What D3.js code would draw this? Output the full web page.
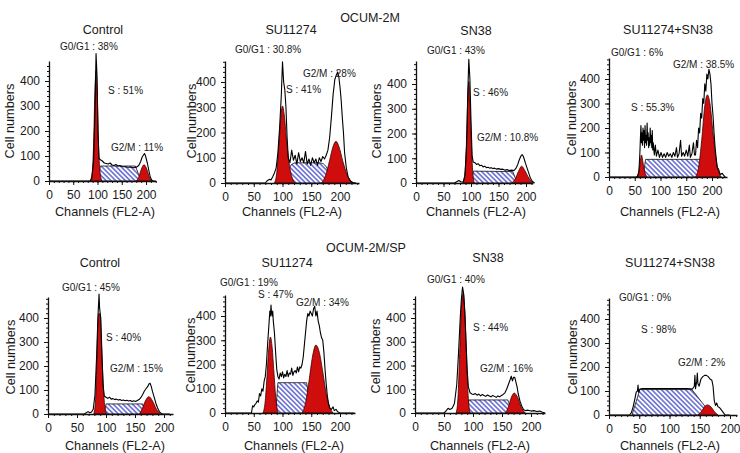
<!DOCTYPE html>
<html>
<head>
<meta charset="utf-8">
<script src="https://cdn.jsdelivr.net/npm/d3@7"></script>
<style>
  body { margin: 0; background: #fff; }
  svg text { font-family: "Liberation Sans", Arial, Helvetica, sans-serif; fill: #1a1a1a; }
  .tick text { font-size: 12px; }
  .axis path, .axis line { stroke: #111; }
  .axis path { stroke-width: 1.3; }
  .title { font-size: 12.5px; }
  .phase { font-size: 10px; }
  .axis-title { font-size: 12.7px; }
</style>
</head>
<body>
<div id="cycle"></div>
<script>
// ---- data ----
const groups = ["OCUM-2M", "OCUM-2M/SP"];
const treatments = ["Control", "SU11274", "SN38", "SU11274+SN38",
                    "Control", "SU11274", "SN38", "SU11274+SN38"];
const g1Pct = ["38%", "30.8%", "43%", "6%", "45%", "19%", "40%", "0%"];
const sPct  = ["51%", "41%", "46%", "55.3%", "40%", "47%", "44%", "98%"];
const g2Pct = ["11%", "28%", "10.8%", "38.5%", "15%", "34%", "16%", "2%"];
const xTicks = [0, 50, 100, 150, 200];
const yTicks = [0, 100, 200, 300, 400];

// raw DNA histograms: [channel, cell count]
const histograms = [
  [[0,0],[84,0],[88,10],[92,80],[95,300],[97,510],[99,420],[101,200],[103,90],[106,85],[110,80],[114,72],[118,70],[122,68],[126,72],[130,64],[134,62],[138,66],[142,60],[146,62],[150,58],[155,57],[160,56],[165,55],[170,55],[175,53],[180,55],[185,62],[189,78],[192,95],[195,105],[197,110],[199,100],[201,85],[203,70],[206,40],[209,15],[212,3],[215,0],[220,0]],
  [[0,0],[70,0],[74,10],[78,15],[80,12],[83,25],[86,40],[89,60],[92,120],[95,220],[98,350],[100,480],[102,400],[104,370],[106,300],[108,180],[110,100],[113,80],[116,130],[119,90],[122,110],[125,75],[128,120],[131,85],[134,100],[137,80],[140,125],[143,75],[146,95],[149,70],[152,100],[155,80],[158,95],[161,70],[164,100],[167,85],[170,105],[173,95],[176,110],[179,130],[182,180],[185,260],[188,350],[191,410],[194,430],[196,440],[198,420],[200,380],[202,330],[204,260],[206,200],[208,120],[211,60],[214,25],[218,8],[222,2],[228,0]],
  [[0,0],[70,0],[74,5],[78,10],[82,4],[86,5],[89,30],[92,150],[94,350],[96,500],[98,420],[100,250],[102,110],[104,85],[107,82],[110,75],[113,78],[116,70],[119,72],[122,65],[125,68],[128,62],[131,64],[134,60],[137,62],[140,58],[143,60],[146,56],[150,58],[154,55],[158,56],[162,52],[166,54],[170,50],[174,52],[178,50],[182,60],[185,75],[188,95],[191,110],[193,115],[195,108],[197,95],[199,80],[202,60],[205,40],[208,20],[211,8],[214,2],[216,0]],
  [[0,0],[55,0],[58,20],[60,100],[61,160],[62,210],[63,140],[64,180],[65,130],[66,200],[67,150],[68,190],[69,120],[70,210],[71,140],[72,170],[73,130],[74,220],[75,150],[76,180],[77,120],[78,160],[79,130],[80,200],[81,140],[82,170],[83,120],[84,190],[85,110],[86,140],[88,90],[90,130],[92,85],[95,110],[98,80],[101,100],[104,80],[107,95],[110,80],[113,100],[116,85],[119,95],[122,80],[125,100],[128,85],[131,120],[133,80],[136,95],[139,150],[141,85],[144,100],[147,85],[150,110],[153,85],[156,130],[158,80],[161,95],[164,140],[166,90],[168,90],[170,150],[172,120],[174,200],[176,180],[178,260],[180,240],[182,320],[184,300],[186,380],[188,350],[190,420],[192,400],[194,440],[196,420],[198,380],[200,300],[202,250],[204,180],[206,120],[208,80],[210,40],[213,30],[216,10],[220,15],[223,5],[226,0]],
  [[0,0],[62,0],[66,5],[69,10],[72,5],[75,8],[78,20],[81,80],[84,250],[86,400],[88,500],[89,440],[91,400],[93,250],[95,120],[97,75],[100,70],[103,65],[106,70],[109,62],[112,64],[115,60],[118,62],[121,58],[124,60],[127,56],[130,58],[133,55],[136,57],[139,54],[142,56],[145,52],[148,55],[151,52],[154,56],[157,60],[160,68],[163,80],[166,95],[169,105],[172,115],[174,125],[176,128],[178,115],[180,95],[183,70],[186,45],[189,25],[192,10],[195,3],[198,0],[210,0]],
  [[0,0],[46,0],[48,30],[50,25],[52,35],[54,40],[56,50],[58,45],[60,80],[62,70],[64,100],[66,90],[68,130],[70,150],[72,200],[74,280],[76,350],[78,420],[79,400],[80,445],[81,410],[82,400],[83,420],[84,380],[86,330],[88,250],[90,180],[92,150],[94,140],[96,165],[98,150],[100,170],[102,145],[104,160],[106,150],[108,175],[110,150],[112,165],[114,160],[116,185],[118,155],[120,170],[122,175],[124,165],[126,190],[128,170],[130,190],[132,185],[134,200],[136,230],[138,280],[140,330],[142,380],[144,410],[146,400],[148,420],[150,410],[152,400],[154,430],[156,440],[158,400],[160,420],[162,380],[164,360],[166,330],[168,310],[170,300],[172,250],[174,180],[176,120],[178,70],[180,40],[182,20],[185,15],[188,25],[190,10],[193,15],[196,5],[200,0],[225,0]],
  [[0,0],[50,0],[54,10],[57,20],[60,15],[64,20],[68,40],[72,120],[75,250],[78,400],[80,480],[82,530],[84,500],[86,420],[88,300],[90,180],[92,110],[95,85],[98,80],[101,78],[104,82],[107,75],[110,80],[113,72],[116,78],[119,74],[122,70],[125,76],[128,72],[131,68],[134,74],[137,70],[140,66],[143,72],[146,68],[149,74],[152,78],[155,85],[158,100],[161,120],[164,140],[166,155],[168,135],[170,150],[172,150],[174,130],[176,110],[178,80],[181,50],[184,30],[187,15],[190,10],[195,12],[200,8],[205,10],[210,6],[215,8],[220,3],[224,0]],
  [[0,0],[34,0],[37,10],[40,35],[43,70],[45,95],[47,100],[48,125],[49,95],[51,108],[55,110],[70,110],[90,110],[110,110],[130,110],[138,108],[141,120],[142,165],[143,110],[145,140],[146,175],[147,130],[149,120],[152,150],[155,160],[158,165],[161,165],[164,160],[167,150],[170,145],[172,120],[174,60],[176,40],[178,50],[180,35],[183,30],[186,20],[189,10],[192,0],[200,0]]
];

// fitted G0/G1 peaks (red)
const g1Peaks = [
  [[85,0],[89,30],[92,150],[95,380],[97,440],[99,380],[102,150],[105,40],[109,0]],
  [[86,0],[90,40],[94,160],[98,280],[100,305],[103,270],[107,170],[112,70],[117,20],[122,0]],
  [[85,0],[89,40],[92,180],[94,330],[96,410],[98,340],[100,200],[103,50],[106,0]],
  [[53,0],[57,15],[60,50],[63,90],[66,60],[69,25],[74,0]],
  [[79,0],[82,60],[84,200],[86,370],[88,420],[90,410],[92,300],[95,130],[98,30],[101,0]],
  [[66,0],[70,50],[73,150],[76,260],[79,313],[82,270],[85,170],[88,70],[92,0]],
  [[71,0],[74,60],[77,250],[80,440],[83,505],[86,420],[89,220],[92,60],[95,0]],
  []
];

// fitted G2/M peaks (red)
const g2Peaks = [
  [[180,0],[185,15],[190,45],[196,65],[202,45],[207,15],[212,0]],
  [[168,0],[175,30],[182,90],[188,145],[193,165],[198,145],[205,85],[212,35],[218,10],[224,0]],
  [[174,0],[180,15],[186,45],[192,68],[198,50],[205,20],[212,0]],
  [[168,0],[174,40],[180,150],[186,290],[191,335],[196,300],[202,180],[208,70],[214,15],[218,0]],
  [[158,0],[163,25],[168,55],[174,72],[180,55],[187,20],[194,0]],
  [[134,0],[140,40],[146,130],[152,230],[158,280],[164,250],[170,170],[176,80],[182,25],[188,0]],
  [[156,0],[161,25],[166,65],[171,84],[177,65],[183,25],[190,0]],
  [[147,0],[153,15],[158,35],[163,42],[168,35],[174,15],[180,0]]
];

// fitted S phase (hatched)
const sPhase = [
  [[100,0],[106,60],[178,60],[190,0]],
  [[106,0],[108,30],[111,55],[115,72],[121,80],[165,80],[171,76],[176,65],[180,45],[184,0]],
  [[101,0],[104,48],[176,46],[184,0]],
  [[66,0],[71,72],[178,72],[184,0]],
  [[97,0],[100,42],[163,42],[170,0]],
  [[88,0],[92,125],[142,125],[150,0]],
  [[89,0],[93,55],[160,55],[168,0]],
  [[38,0],[51,106],[137,106],[170,0]]
];

// ---- layout (pixel frame of each panel) ----
const frames = [
  {x0:49,  x200:146, xEnd:156, y0:181, y400:81,  yTop:61,  title:[103,34],  g1:[60,50],    s:[108,94],    g2:[111,151],   ylab:[9,121],   xlab:[105,216]},
  {x0:225, x200:340, xEnd:359, y0:183, y400:82,  yTop:61,  title:[291,34],  g1:[235,52.5], s:[286,92.5],  g2:[303,76.5],  ylab:[191,121], xlab:[292,216]},
  {x0:416, x200:526, xEnd:533, y0:183, y400:84,  yTop:61,  title:[476,35],  g1:[427,53.5], s:[473,95.5],  g2:[477,140.5], ylab:[376,121], xlab:[476,216]},
  {x0:609, x200:712, xEnd:727, y0:177, y400:79,  yTop:58,  title:[668,34],  g1:[611,55.5], s:[631,110.5], g2:[673,67.5],  ylab:[571,118], xlab:[670,216]},
  {x0:48,  x200:164, xEnd:173, y0:414, y400:318, yTop:297, title:[100,267], g1:[62,290.5], s:[106,340.5], g2:[110,371.5], ylab:[10,357],  xlab:[115,450]},
  {x0:225, x200:340, xEnd:355, y0:413, y400:316, yTop:295, title:[287,267], g1:[220,285.5],s:[258,297.5], g2:[296,305.5], ylab:[190,355], xlab:[294,450]},
  {x0:415, x200:531, xEnd:545, y0:413, y400:318, yTop:296, title:[488,262], g1:[427,282.5],s:[473,330.5], g2:[480,371.5], ylab:[375,356], xlab:[480,450]},
  {x0:609, x200:730, xEnd:737, y0:415, y400:319, yTop:298, title:[670,267], g1:[619,300.5],s:[641,332.5], g2:[678,365.5], ylab:[572,357], xlab:[670,450]}
];
const groupTitles = [[370, 22], [366, 252]];

const width = 740, height = 453;
const svg = d3.select("#cycle")
  .append("svg")
    .attr("width", width)
    .attr("height", height);

// diagonal hatching for the S phase
svg.append("defs")
  .append("pattern")
    .attr("id", "hatch")
    .attr("patternUnits", "userSpaceOnUse")
    .attr("width", 8)
    .attr("height", 3.4)
    .attr("patternTransform", "rotate(45)")
  .append("line")
    .attr("x1", 0).attr("y1", 1.7)
    .attr("x2", 8).attr("y2", 1.7)
    .attr("stroke", "#3f45c6")
    .attr("stroke-width", 1.25);

svg.selectAll(".group-title")
  .data(groups)
  .join("text")
    .attr("class", "title group-title")
    .attr("x", (d, i) => groupTitles[i][0])
    .attr("y", (d, i) => groupTitles[i][1])
    .attr("text-anchor", "middle")
    .text(d => d);

frames.forEach((f, i) => {
  // scales: ticks at 0..200 / 0..400, axes run a little further
  const xMax = (f.xEnd - f.x0) / (f.x200 - f.x0) * 200;
  const yMax = (f.y0 - f.yTop) / (f.y0 - f.y400) * 400;
  const x = d3.scaleLinear().domain([0, xMax]).range([f.x0, f.xEnd]);
  const y = d3.scaleLinear().domain([0, yMax]).range([f.y0, f.yTop]);

  const g = svg.append("g");

  const area = d3.area()
    .x(d => x(d[0]))
    .y0(y(0))
    .y1(d => y(d[1]))
    .curve(d3.curveMonotoneX);

  // S phase
  g.append("path")
    .datum(sPhase[i])
    .attr("d", d3.line().x(d => x(d[0])).y(d => y(d[1]))(sPhase[i]) + "Z")
    .attr("fill", "url(#hatch)")
    .attr("stroke", "#111")
    .attr("stroke-width", 0.8);

  // G0/G1 and G2/M peaks
  [g1Peaks[i], g2Peaks[i]].forEach(pk => {
    if (!pk.length) return;
    g.append("path")
      .datum(pk)
      .attr("d", area)
      .attr("fill", "#cf0d0d")
      .attr("stroke", "#3a0000")
      .attr("stroke-width", 0.8);
  });

  // histogram
  g.append("path")
    .datum(histograms[i])
    .attr("fill", "none")
    .attr("stroke", "#000")
    .attr("stroke-width", 1.1)
    .attr("stroke-linejoin", "round")
    .attr("d", d3.line().x(d => x(d[0])).y(d => y(d[1])));

  // axes
  g.append("g")
    .attr("class", "axis")
    .attr("transform", `translate(0,${f.y0})`)
    .call(d3.axisBottom(x).tickValues(d3.range(10, xMax, 10)).tickSize(2).tickFormat(""))
    .call(a => a.select(".domain").remove());
  g.append("g")
    .attr("class", "axis")
    .attr("transform", `translate(${f.x0},0)`)
    .call(d3.axisLeft(y).tickValues(d3.range(20, yMax, 20)).tickSize(2).tickFormat(""))
    .call(a => a.select(".domain").remove());
  g.append("g")
    .attr("class", "axis")
    .attr("transform", `translate(0,${f.y0})`)
    .call(d3.axisBottom(x).tickValues(xTicks).tickSizeInner(4).tickSizeOuter(0).tickPadding(5));
  g.append("g")
    .attr("class", "axis")
    .attr("transform", `translate(${f.x0},0)`)
    .call(d3.axisLeft(y).tickValues(yTicks).tickSizeInner(4).tickSizeOuter(0).tickPadding(5));
  g.selectAll(".axis .tick text").attr("fill", "#1a1a1a");

  // texts
  g.append("text")
    .attr("class", "title")
    .attr("x", f.title[0]).attr("y", f.title[1])
    .attr("text-anchor", "middle")
    .text(treatments[i]);
  g.append("text")
    .attr("class", "phase")
    .attr("x", f.g1[0]).attr("y", f.g1[1])
    .text("G0/G1 : " + g1Pct[i]);
  g.append("text")
    .attr("class", "phase")
    .attr("x", f.s[0]).attr("y", f.s[1])
    .text("S : " + sPct[i]);
  g.append("text")
    .attr("class", "phase")
    .attr("x", f.g2[0]).attr("y", f.g2[1])
    .text("G2/M : " + g2Pct[i]);
  g.append("text")
    .attr("class", "axis-title")
    .attr("transform", `translate(${f.ylab[0] + 4.5},${f.ylab[1]}) rotate(-90)`)
    .attr("text-anchor", "middle")
    .text("Cell numbers");
  g.append("text")
    .attr("class", "axis-title")
    .attr("x", f.xlab[0]).attr("y", f.xlab[1])
    .attr("text-anchor", "middle")
    .text("Channels (FL2-A)");
});
</script>
</body>
</html>
